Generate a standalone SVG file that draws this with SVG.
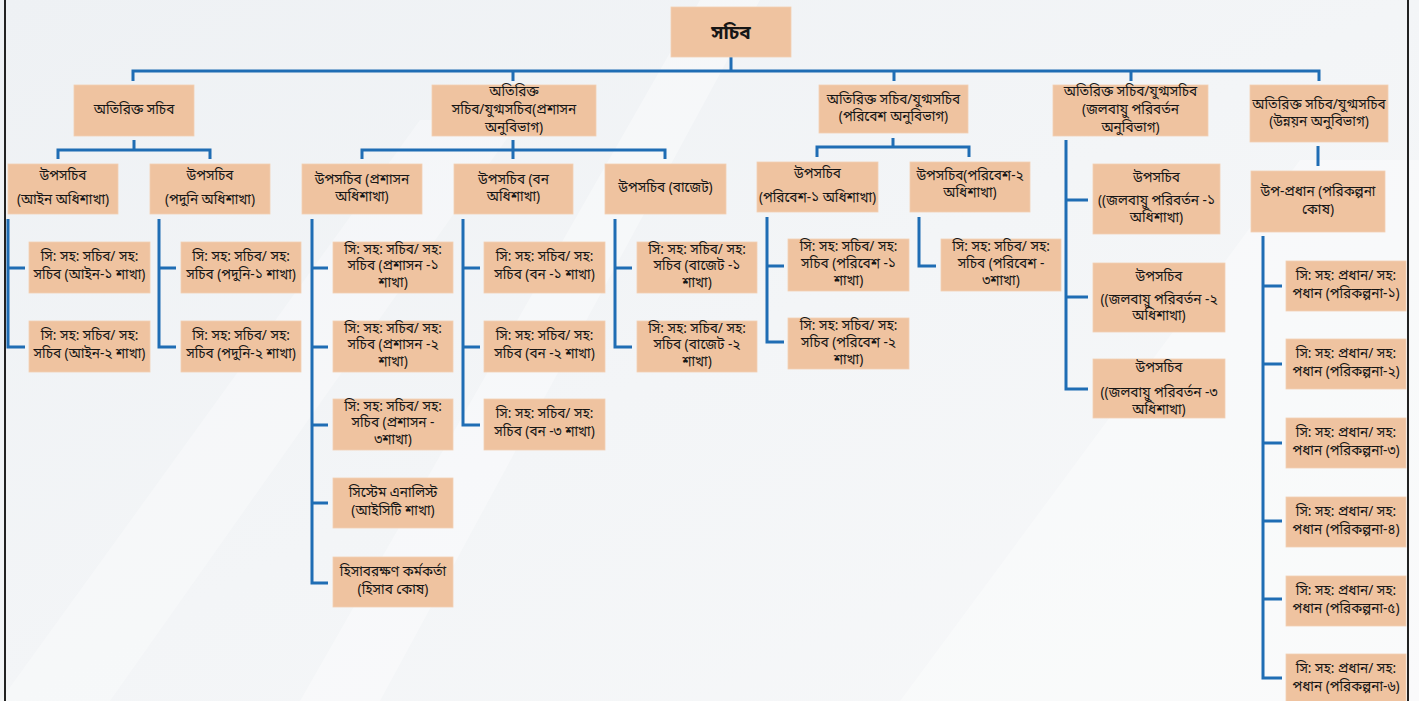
<svg xmlns="http://www.w3.org/2000/svg" width="1419" height="701" viewBox="0 0 1419 701">
<defs>
<linearGradient id="bg" x1="0" y1="0" x2="1" y2="1">
<stop offset="0" stop-color="#eef1f4"/>
<stop offset="0.5" stop-color="#f3f5f7"/>
<stop offset="1" stop-color="#f7f8f9"/>
</linearGradient>
<style>
.box{fill:#efc3a0;stroke:#f3d0b3;stroke-width:0.8}
.t{font-family:"Noto Sans Bengali","Lohit Bengali","Noto Sans","DejaVu Sans",sans-serif;font-size:13.6px;fill:#161616;text-anchor:middle}
.top{font-size:19px;font-weight:bold}
.c{fill:none;stroke:#1f6db4;stroke-width:3;stroke-linejoin:miter}
.brd{stroke:#222;stroke-width:2}
</style>
</defs>
<rect x="0" y="0" width="1419" height="701" fill="url(#bg)"/>
<polygon points="300,701 700,0 760,0 380,701" fill="#ffffff" opacity="0.35"/>
<polygon points="0,701 420,120 520,120 110,701" fill="#ffffff" opacity="0.3"/>
<polygon points="900,701 1300,160 1419,160 1419,701" fill="#ffffff" opacity="0.35"/>
<line class="brd" x1="5" y1="0" x2="5" y2="701"/>
<line class="brd" x1="1408" y1="0" x2="1408" y2="701"/>

<g id="connectors">
<path class="c" d="M731,57 V71"/>
<path class="c" d="M133,81 V71 H1319 V81"/>
<path class="c" d="M513,71 V81 M894,71 V81 M1131,71 V81"/>
<path class="c" d="M134,140 V150 M58,159 V150 H210 V159"/>
<path class="c" d="M513,140 V159 M362,159 V150 H665 V159"/>
<path class="c" d="M893,138 V147 M817,157 V147 H969 V157"/>
<path class="c" d="M1066,140 V389 H1088 M1066,200 H1088 M1066,297 H1088"/>
<path class="c" d="M1318,146 V166"/>
<path class="c" d="M1263,236 V678 H1282 M1263,286 H1282 M1263,364 H1282 M1263,443 H1282 M1263,521 H1282 M1263,599 H1282"/>
<path class="c" d="M8,219 V347 H25 M8,268 H25"/>
<path class="c" d="M159,219 V347 H176 M159,268 H176"/>
<path class="c" d="M312,219 V583 H328 M312,268 H328 M312,347 H328 M312,425 H328 M312,503 H328"/>
<path class="c" d="M463,219 V425 H480 M463,268 H480 M463,347 H480"/>
<path class="c" d="M615,219 V347 H632 M615,268 H632"/>
<path class="c" d="M767,217 V342 H784 M767,266 H784"/>
<path class="c" d="M919,217 V266 H936"/>
</g>

<g id="n-sachib"><rect class="box" x="671" y="7" width="120" height="50"/><text class="t top" x="731" y="39">সচিব</text></g>

<g id="n-a1"><rect class="box" x="74" y="85" width="120" height="51"/><text class="t" x="134" y="114">অতিরিক্ত সচিব</text></g>
<g id="n-a2"><rect class="box" x="432" y="85" width="164" height="51"/><text class="t" x="514" y="96">অতিরিক্ত</text><text class="t" x="514" y="114">সচিব/যুগ্মসচিব(প্রশাসন</text><text class="t" x="514" y="132">অনুবিভাগ)</text></g>
<g id="n-a3"><rect class="box" x="819" y="85" width="149" height="48"/><text class="t" x="893.5" y="104">অতিরিক্ত সচিব/যুগ্মসচিব</text><text class="t" x="893.5" y="121">(পরিবেশ অনুবিভাগ)</text></g>
<g id="n-a4"><rect class="box" x="1053" y="85" width="155" height="51"/><text class="t" x="1130.5" y="96">অতিরিক্ত সচিব/যুগ্মসচিব</text><text class="t" x="1130.5" y="114">(জলবায়ু পরিবর্তন</text><text class="t" x="1130.5" y="132">অনুবিভাগ)</text></g>
<g id="n-a5"><rect class="box" x="1250" y="85" width="138" height="57"/><text class="t" x="1319" y="109">অতিরিক্ত সচিব/যুগ্মসচিব</text><text class="t" x="1319" y="126">(উন্নয়ন অনুবিভাগ)</text></g>

<g id="n-b1"><rect class="box" x="8" y="164" width="110" height="50"/><text class="t" x="63" y="180">উপসচিব</text><text class="t" x="63" y="204">(আইন অধিশাখা)</text></g>
<g id="n-b2"><rect class="box" x="150" y="164" width="120" height="50"/><text class="t" x="210" y="180">উপসচিব</text><text class="t" x="210" y="204">(পদুনি অধিশাখা)</text></g>
<g id="n-b3"><rect class="box" x="302" y="164" width="120" height="50"/><text class="t" x="362" y="184">উপসচিব (প্রশাসন</text><text class="t" x="362" y="201">অধিশাখা)</text></g>
<g id="n-b4"><rect class="box" x="454" y="164" width="119" height="50"/><text class="t" x="513.5" y="184">উপসচিব (বন</text><text class="t" x="513.5" y="201">অধিশাখা)</text></g>
<g id="n-b5"><rect class="box" x="605" y="164" width="121" height="50"/><text class="t" x="665.5" y="192">উপসচিব (বাজেট)</text></g>
<g id="n-b6"><rect class="box" x="757" y="162" width="121" height="50"/><text class="t" x="817.5" y="178">উপসচিব</text><text class="t" x="817.5" y="202">(পরিবেশ-১ অধিশাখা)</text></g>
<g id="n-b7"><rect class="box" x="910" y="162" width="120" height="50"/><text class="t" x="970" y="180">উপসচিব(পরিবেশ-২</text><text class="t" x="970" y="197">অধিশাখা)</text></g>
<g id="n-b8"><rect class="box" x="1093" y="164" width="127" height="70"/><text class="t" x="1156.5" y="182">উপসচিব</text><text class="t" x="1156.5" y="205">((জলবায়ু পরিবর্তন -১</text><text class="t" x="1156.5" y="222">অধিশাখা)</text></g>
<g id="n-b9"><rect class="box" x="1093" y="263" width="132" height="69"/><text class="t" x="1159" y="281">উপসচিব</text><text class="t" x="1159" y="304">((জলবায়ু পরিবর্তন -২</text><text class="t" x="1159" y="320">অধিশাখা)</text></g>
<g id="n-b10"><rect class="box" x="1093" y="359" width="132" height="59"/><text class="t" x="1159" y="372">উপসচিব</text><text class="t" x="1159" y="397">((জলবায়ু পরিবর্তন -৩</text><text class="t" x="1159" y="414">অধিশাখা)</text></g>
<g id="n-b11"><rect class="box" x="1251" y="171" width="134" height="61"/><text class="t" x="1318" y="196">উপ-প্রধান (পরিকল্পনা</text><text class="t" x="1318" y="214">কোষ)</text></g>

<g id="n-c1"><rect class="box" x="29" y="242" width="121" height="51"/><text class="t" x="89.5" y="261">সি: সহ: সচিব/ সহ:</text><text class="t" x="89.5" y="279">সচিব (আইন-১ শাখা)</text></g>
<g id="n-c2"><rect class="box" x="29" y="321" width="121" height="51"/><text class="t" x="89.5" y="340">সি: সহ: সচিব/ সহ:</text><text class="t" x="89.5" y="358">সচিব (আইন-২ শাখা)</text></g>
<g id="n-c3"><rect class="box" x="181" y="242" width="120" height="51"/><text class="t" x="241" y="261">সি: সহ: সচিব/ সহ:</text><text class="t" x="241" y="279">সচিব (পদুনি-১ শাখা)</text></g>
<g id="n-c4"><rect class="box" x="181" y="321" width="120" height="51"/><text class="t" x="241" y="340">সি: সহ: সচিব/ সহ:</text><text class="t" x="241" y="358">সচিব (পদুনি-২ শাখা)</text></g>

<g id="n-c5"><rect class="box" x="333" y="242" width="120" height="51"/><text class="t" x="393" y="254">সি: সহ: সচিব/ সহ:</text><text class="t" x="393" y="270">সচিব (প্রশাসন -১</text><text class="t" x="393" y="287">শাখা)</text></g>
<g id="n-c6"><rect class="box" x="333" y="321" width="120" height="51"/><text class="t" x="393" y="333">সি: সহ: সচিব/ সহ:</text><text class="t" x="393" y="349">সচিব (প্রশাসন -২</text><text class="t" x="393" y="366">শাখা)</text></g>
<g id="n-c7"><rect class="box" x="333" y="399" width="120" height="51"/><text class="t" x="393" y="411">সি: সহ: সচিব/ সহ:</text><text class="t" x="393" y="427">সচিব (প্রশাসন -</text><text class="t" x="393" y="444">৩শাখা)</text></g>
<g id="n-c8"><rect class="box" x="333" y="478" width="120" height="50"/><text class="t" x="393" y="497">সিস্টেম এনালিস্ট</text><text class="t" x="393" y="515">(আইসিটি শাখা)</text></g>
<g id="n-c9"><rect class="box" x="333" y="557" width="120" height="50"/><text class="t" x="393" y="576">হিসাবরক্ষণ কর্মকর্তা</text><text class="t" x="393" y="594">(হিসাব কোষ)</text></g>

<g id="n-c10"><rect class="box" x="484" y="242" width="121" height="51"/><text class="t" x="544.5" y="261">সি: সহ: সচিব/ সহ:</text><text class="t" x="544.5" y="279">সচিব (বন -১ শাখা)</text></g>
<g id="n-c11"><rect class="box" x="484" y="321" width="121" height="51"/><text class="t" x="544.5" y="340">সি: সহ: সচিব/ সহ:</text><text class="t" x="544.5" y="358">সচিব (বন -২ শাখা)</text></g>
<g id="n-c12"><rect class="box" x="484" y="399" width="121" height="51"/><text class="t" x="544.5" y="418">সি: সহ: সচিব/ সহ:</text><text class="t" x="544.5" y="436">সচিব (বন -৩ শাখা)</text></g>

<g id="n-c13"><rect class="box" x="637" y="242" width="120" height="51"/><text class="t" x="697" y="254">সি: সহ: সচিব/ সহ:</text><text class="t" x="697" y="270">সচিব (বাজেট -১</text><text class="t" x="697" y="287">শাখা)</text></g>
<g id="n-c14"><rect class="box" x="637" y="321" width="120" height="51"/><text class="t" x="697" y="333">সি: সহ: সচিব/ সহ:</text><text class="t" x="697" y="349">সচিব (বাজেট -২</text><text class="t" x="697" y="366">শাখা)</text></g>

<g id="n-c15"><rect class="box" x="788" y="239" width="121" height="52"/><text class="t" x="848.5" y="251">সি: সহ: সচিব/ সহ:</text><text class="t" x="848.5" y="268">সচিব (পরিবেশ -১</text><text class="t" x="848.5" y="285">শাখা)</text></g>
<g id="n-c16"><rect class="box" x="788" y="318" width="121" height="51"/><text class="t" x="848.5" y="330">সি: সহ: সচিব/ সহ:</text><text class="t" x="848.5" y="347">সচিব (পরিবেশ -২</text><text class="t" x="848.5" y="364">শাখা)</text></g>
<g id="n-c17"><rect class="box" x="941" y="239" width="120" height="52"/><text class="t" x="1001" y="251">সি: সহ: সচিব/ সহ:</text><text class="t" x="1001" y="268">সচিব (পরিবেশ -</text><text class="t" x="1001" y="285">৩শাখা)</text></g>

<g id="n-p1"><rect class="box" x="1286" y="261" width="120" height="50"/><text class="t" x="1346" y="280">সি: সহ: প্রধান/ সহ:</text><text class="t" x="1346" y="298">পধান (পরিকল্পনা-১)</text></g>
<g id="n-p2"><rect class="box" x="1286" y="339" width="120" height="50"/><text class="t" x="1346" y="358">সি: সহ: প্রধান/ সহ:</text><text class="t" x="1346" y="376">পধান (পরিকল্পনা-২)</text></g>
<g id="n-p3"><rect class="box" x="1286" y="418" width="120" height="50"/><text class="t" x="1346" y="437">সি: সহ: প্রধান/ সহ:</text><text class="t" x="1346" y="455">পধান (পরিকল্পনা-৩)</text></g>
<g id="n-p4"><rect class="box" x="1286" y="497" width="120" height="50"/><text class="t" x="1346" y="516">সি: সহ: প্রধান/ সহ:</text><text class="t" x="1346" y="534">পধান (পরিকল্পনা-৪)</text></g>
<g id="n-p5"><rect class="box" x="1286" y="576" width="120" height="50"/><text class="t" x="1346" y="595">সি: সহ: প্রধান/ সহ:</text><text class="t" x="1346" y="613">পধান (পরিকল্পনা-৫)</text></g>
<g id="n-p6"><rect class="box" x="1286" y="654" width="120" height="50"/><text class="t" x="1346" y="673">সি: সহ: প্রধান/ সহ:</text><text class="t" x="1346" y="691">পধান (পরিকল্পনা-৬)</text></g>
</svg>
